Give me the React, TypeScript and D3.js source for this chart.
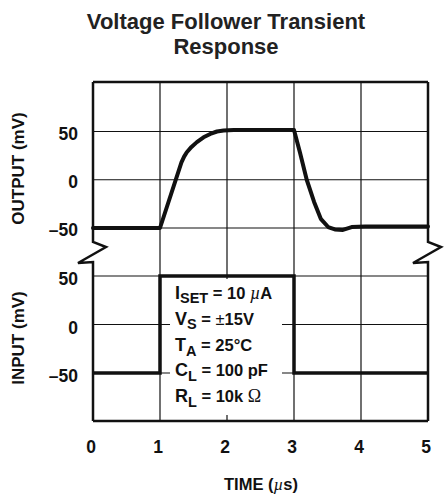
import React from "react";
import * as d3 from "d3";

const timeTicks = [0, 1, 2, 3, 4, 5];
const gridTimes = [1, 2, 3, 4];
const outputTicks = [50, 0, -50];
const inputTicks = [50, 0, -50];

// Output (mV) vs time (µs)
const outTime = [0, 1.0, 1.32, 1.36, 1.4, 1.47, 1.55, 1.65, 1.75, 1.85, 1.95, 2.1, 3.0, 3.09, 3.19, 3.3, 3.4, 3.51, 3.61, 3.73, 3.86, 4.06, 5.0];
const outMv = [-50, -50, 18, 24, 28.5, 34, 39, 44, 47.5, 50, 51, 51.5, 51.5, 28, 0, -23, -40.5, -49, -51.5, -52, -49, -48.5, -48.5];

// Input (mV) vs time (µs)
const inTime = [0, 1, 1, 3, 3, 5];
const inMv = [-50, -50, 50, 50, -50, -50];

const FONT = "'Liberation Sans', Arial, Helvetica, sans-serif";
const SERIF = "'Liberation Serif', 'DejaVu Serif', serif";
const INK = "#111";

export default function App() {
  const W = 447, H = 495;
  const x = d3.scaleLinear().domain([0, 5]).range([93, 428]);
  const yOut = d3.scaleLinear().domain([-50, 50]).range([228, 131.5]);
  const yIn = d3.scaleLinear().domain([-50, 50]).range([373, 276]);
  const top = 82, bottom = 421;
  const breakTop = 242, breakBot = 262;

  const outLine = d3.line<number>()
    .x((_, i) => x(outTime[i]))
    .y((d) => yOut(d))
    .curve(d3.curveLinear);
  const inLine = d3.line<number>()
    .x((_, i) => x(inTime[i]))
    .y((d) => yIn(d));

  const sideBreak = (x0: number) =>
    `M${x0},${top} V${breakTop} L${x0 + 13},${breakTop + 5} L${x0 - 15},${breakBot + 1} L${x0},${breakBot} V${bottom}`;

  const x0 = x(0), x5 = x(5);
  const annX = 175;
  const annBase = 299;
  const annStep = 25.8;

  return (
    <svg width={W} height={H} style={{ position: "absolute", left: 0, top: 0, background: "#fff" }}>
      {/* Title */}
      <text x={226} y={28.5} textAnchor="middle" fontFamily={FONT} fontWeight="bold" fontSize={22} fill="#222">
        Voltage Follower Transient
      </text>
      <text x={226} y={54} textAnchor="middle" fontFamily={FONT} fontWeight="bold" fontSize={22} fill="#222">
        Response
      </text>

      {/* Grid */}
      {gridTimes.map((t) => (
        <line key={"v" + t} x1={x(t)} x2={x(t)} y1={top} y2={bottom} stroke={INK} strokeWidth={1.2} />
      ))}
      {outputTicks.map((v) => (
        <line key={"ho" + v} x1={x0} x2={x5} y1={yOut(v)} y2={yOut(v)} stroke={INK} strokeWidth={1.2} />
      ))}
      {inputTicks.map((v) => (
        <line key={"hi" + v} x1={x0} x2={x5} y1={yIn(v)} y2={yIn(v)} stroke={INK} strokeWidth={1.2} />
      ))}

      {/* Annotation box */}
      <rect x={170} y={279} width={112} height={136} fill="#fff" />

      {/* Input trace */}
      <path d={inLine(inMv) || ""} fill="none" stroke={INK} strokeWidth={3.5} strokeLinejoin="miter" />

      {/* Output trace */}
      <path d={outLine(outMv) || ""} fill="none" stroke={INK} strokeWidth={4} strokeLinejoin="round" strokeLinecap="round" />

      {/* Frame */}
      <line x1={x0} x2={x5} y1={top} y2={top} stroke={INK} strokeWidth={2.5} />
      <line x1={x0} x2={x5} y1={bottom} y2={bottom} stroke={INK} strokeWidth={2.5} />
      <path d={sideBreak(x0)} fill="none" stroke={INK} strokeWidth={2.5} />
      <path d={sideBreak(x5)} fill="none" stroke={INK} strokeWidth={2.5} />

      {/* Annotation text */}
      <g fontFamily={FONT} fontWeight="bold" fill={INK} fontSize={16.5}>
        <text x={annX} y={annBase}>
          <tspan fontSize={18}>I</tspan>
          <tspan fontSize={14.5} dy={4}>SET</tspan>
          <tspan dy={-4}> = 10 </tspan>
          <tspan fontFamily={SERIF} fontStyle="italic" fontWeight="normal" fontSize={18}>µ</tspan>
          <tspan>A</tspan>
        </text>
        <text x={annX} y={annBase + annStep}>
          <tspan fontSize={18}>V</tspan>
          <tspan fontSize={14.5} dy={4}>S</tspan>
          <tspan dy={-4}> = </tspan>
          <tspan fontWeight="normal">±</tspan>
          <tspan>15V</tspan>
        </text>
        <text x={annX} y={annBase + annStep * 2}>
          <tspan fontSize={18}>T</tspan>
          <tspan fontSize={14.5} dy={5}>A</tspan>
          <tspan dy={-5}> = 25°C</tspan>
        </text>
        <text x={annX} y={annBase + annStep * 3}>
          <tspan fontSize={18}>C</tspan>
          <tspan fontSize={14.5} dy={5}>L</tspan>
          <tspan dy={-5}> = 100 pF</tspan>
        </text>
        <text x={annX} y={annBase + annStep * 4}>
          <tspan fontSize={18}>R</tspan>
          <tspan fontSize={14.5} dy={5}>L</tspan>
          <tspan dy={-5}> = 10k </tspan>
          <tspan fontFamily={SERIF} fontWeight="normal" fontSize={18}>Ω</tspan>
        </text>
      </g>

      {/* Y tick labels */}
      <g fontFamily={FONT} fontWeight="bold" fontSize={17.5} fill={INK} textAnchor="end">
        {outputTicks.map((v) => (
          <text key={"to" + v} x={78} y={yOut(v) + 8}>{v < 0 ? "–" + Math.abs(v) : String(v)}</text>
        ))}
        {inputTicks.map((v) => (
          <text key={"ti" + v} x={78} y={yIn(v) + 9}>{v < 0 ? "–" + Math.abs(v) : String(v)}</text>
        ))}
      </g>

      {/* X tick labels */}
      <g fontFamily={FONT} fontWeight="bold" fontSize={17.5} fill={INK} textAnchor="middle">
        {timeTicks.map((t) => (
          <text key={"tx" + t} x={x(t) - 2} y={453}>{t}</text>
        ))}
      </g>

      {/* Axis titles */}
      <text x={261} y={490} textAnchor="middle" fontFamily={FONT} fontWeight="bold" fontSize={16.5} fill={INK}>
        TIME (<tspan fontFamily={SERIF} fontStyle="italic" fontWeight="normal" fontSize={17}>µ</tspan>s)
      </text>
      <text transform="translate(24,168.5) rotate(-90)" textAnchor="middle" fontFamily={FONT} fontWeight="bold" fontSize={17} fill={INK}>
        OUTPUT (mV)
      </text>
      <text transform="translate(24,338) rotate(-90)" textAnchor="middle" fontFamily={FONT} fontWeight="bold" fontSize={17} fill={INK}>
        INPUT (mV)
      </text>
    </svg>
  );
}
